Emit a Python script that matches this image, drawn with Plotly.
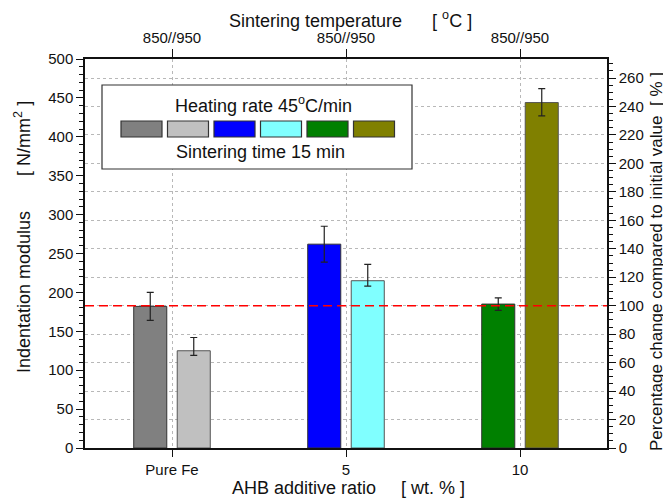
import plotly.graph_objects as go

# ---- data ----
categories = ["Pure Fe", "5", "10"]
top_labels = ["850//950", "850//950", "850//950"]
modulus_850 = [182, 262, 185]
modulus_950 = [125, 215, 444]
err_850_plus = [18, 23, 8]
err_850_minus = [18, 23, 8]
err_950_plus = [17, 21, 18]
err_950_minus = [6, 7, 17]
colors_850 = ["#808080", "#0000FF", "#008000"]
colors_950 = ["#C0C0C0", "#80FFFF", "#808000"]
reference_value = 182.9   # Pure Fe 850 -> 100 %
pct_max = 500 / reference_value * 100

# ---- layout geometry (page pixels; page body has an 8px offset) ----
W, H = 671, 501
OFF = 8
L, R, T, B = 85, 607, 59, 448

def px(x):
    return (x - L) / (R - L)

def py(y):
    return (B - y) / (B - T)

FONT = "Liberation Sans, Arial, sans-serif"
xpos = list(range(len(categories)))

fig = go.Figure()
fig.add_trace(go.Bar(
    x=xpos, y=modulus_850, marker=dict(color=colors_850, line=dict(color="#333333", width=1)),
    error_y=dict(type="data", symmetric=False, array=err_850_plus, arrayminus=err_850_minus,
                 color="#222222", thickness=1.2, width=3.5),
    showlegend=False, hoverinfo="y"))
fig.add_trace(go.Bar(
    x=xpos, y=modulus_950, marker=dict(color=colors_950, line=dict(color="#555555", width=1)),
    error_y=dict(type="data", symmetric=False, array=err_950_plus, arrayminus=err_950_minus,
                 color="#222222", thickness=1.2, width=3.5),
    showlegend=False, hoverinfo="y"))
# invisible traces to attach secondary axes
fig.add_trace(go.Scatter(x=xpos, y=[None] * len(xpos), xaxis="x2", yaxis="y",
                         mode="markers", showlegend=False, hoverinfo="skip"))
fig.add_trace(go.Scatter(x=xpos, y=[None] * len(xpos), xaxis="x", yaxis="y2",
                         mode="markers", showlegend=False, hoverinfo="skip"))

tickfont = dict(family=FONT, size=15, color="#111111")
grid = dict(showgrid=True, gridcolor="#b8b8b8", griddash="dot", gridwidth=1)

fig.update_layout(
    width=W, height=H,
    margin=dict(l=L - OFF, r=W - (R - OFF), t=T - OFF, b=H - (B - OFF), pad=0),
    paper_bgcolor="white", plot_bgcolor="white",
    barmode="group", bargap=0.5, bargroupgap=0.24,
    font=dict(family=FONT, size=15, color="#111111"),
    xaxis=dict(range=[-0.5, 2.5], tickvals=xpos, ticktext=categories, ticks="outside",
               ticklen=7, tickwidth=1.2, tickcolor="#111111", showline=True, linecolor="#111111",
               linewidth=1.5, tickfont=tickfont, zeroline=False, **grid),
    xaxis2=dict(range=[-0.5, 2.5], tickvals=xpos, ticktext=top_labels, overlaying="x",
                side="top", anchor="y", ticks="outside", ticklen=8, tickwidth=1.2,
                tickcolor="#111111", showline=True, linecolor="#111111", linewidth=2,
                tickfont=tickfont, showgrid=False, zeroline=False),
    yaxis=dict(range=[0, 500], dtick=50, ticks="outside", ticklen=7, tickwidth=1.2,
               tickcolor="#111111", showline=True, linecolor="#111111", linewidth=1.5,
               tickfont=tickfont, showgrid=False, zeroline=False,
               minor=dict(dtick=10, ticks="outside", ticklen=4, tickcolor="#111111", showgrid=False)),
    yaxis2=dict(range=[0, pct_max], dtick=20, overlaying="y", side="right", anchor="x",
                ticks="outside", ticklen=7, tickwidth=1.2, tickcolor="#111111", showline=True,
                linecolor="#111111", linewidth=1.5, tickfont=tickfont, zeroline=False,
                minor=dict(dtick=5, ticks="outside", ticklen=4, tickcolor="#111111", showgrid=False),
                **grid),
)

shapes = []
# 100 % reference line
shapes.append(dict(type="line", xref="paper", yref="y2", x0=0, x1=1, y0=100, y1=100,
                   line=dict(color="#ff0000", width=1.5, dash="9px,5px"), layer="above"))
# legend box
shapes.append(dict(type="rect", xref="paper", yref="paper", x0=px(102), x1=px(412),
                   y0=py(169), y1=py(85), fillcolor="white",
                   line=dict(color="#333333", width=1.2), layer="above"))
swatch_colors = [c for pair in zip(colors_850, colors_950) for c in pair]
for i, c in enumerate(swatch_colors):
    x0 = 121 + i * 46.5
    shapes.append(dict(type="rect", xref="paper", yref="paper", x0=px(x0), x1=px(x0 + 41),
                       y0=py(137), y1=py(121), fillcolor=c,
                       line=dict(color="#333333", width=1.2), layer="above"))
fig.update_layout(shapes=shapes)

def text_ann(text, x, y, size=18, angle=0):
    return dict(text=text, xref="paper", yref="paper", x=px(x), y=py(y),
                xanchor="center", yanchor="middle", textangle=angle, showarrow=False,
                font=dict(family=FONT, size=size, color="#111111"))

ann = [
    text_ann("Heating rate 45<sup>o</sup>C/min", 263, 105, 18),
    text_ann("Sintering time 15 min", 260, 152, 18),
    text_ann("Indentation modulus       [ N/mm<sup>2</sup> ]", 22, 237, 18, -90),
    text_ann("Percentage change compared to initial value  [ % ]", 657, 262, 17, -90),
    text_ann("AHB additive ratio     [ wt. % ]", 348, 488, 18),
    text_ann("Sintering temperature      [ <sup>o</sup>C ]", 350, 19, 18),
]
fig.update_layout(annotations=ann)

fig.write_html("out.html")
